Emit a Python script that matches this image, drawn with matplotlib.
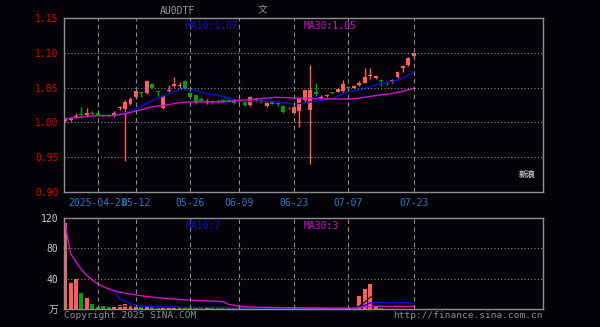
import numpy as np
import pandas as pd
import matplotlib
matplotlib.use('Agg')
import matplotlib.pyplot as plt

# trading days 2025-04-18 .. 2025-07-23 (holidays removed)
holidays = ['2025-05-01', '2025-05-02', '2025-05-05', '2025-06-02']
days = [d for d in pd.bdate_range('2025-04-18', '2025-07-23') if d.strftime('%Y-%m-%d') not in holidays]

opens = [1.002, 1.003, 1.007, 1.012, 1.010, 1.014, 1.013, 1.011, 1.011, 1.009,
         1.020, 1.019, 1.027, 1.036, 1.043, 1.042, 1.055, 1.045, 1.021, 1.045,
         1.052, 1.052, 1.060, 1.042, 1.039, 1.033, 1.030, 1.031, 1.031, 1.032,
         1.032, 1.033, 1.030, 1.030, 1.025, 1.032, 1.032, 1.023, 1.029, 1.028,
         1.024, 1.020, 1.014, 1.017, 1.032, 1.018, 1.043, 1.035, 1.038, 1.043,
         1.044, 1.045, 1.051, 1.050, 1.054, 1.057, 1.066, 1.064, 1.061, 1.058,
         1.058, 1.065, 1.078, 1.082, 1.096]
closes = [1.005, 1.007, 1.009, 1.010, 1.013, 1.012, 1.011, 1.010, 1.009, 1.014,
          1.022, 1.029, 1.034, 1.045, 1.042, 1.060, 1.050, 1.044, 1.038, 1.047,
          1.055, 1.054, 1.048, 1.037, 1.028, 1.031, 1.031, 1.029, 1.030, 1.030,
          1.030, 1.028, 1.032, 1.025, 1.036, 1.034, 1.030, 1.028, 1.027, 1.026,
          1.015, 1.021, 1.022, 1.033, 1.046, 1.046, 1.041, 1.037, 1.040, 1.042,
          1.048, 1.055, 1.049, 1.052, 1.056, 1.065, 1.068, 1.066, 1.060, 1.057,
          1.061, 1.073, 1.081, 1.093, 1.099]
highs = [1.006, 1.008, 1.014, 1.022, 1.020, 1.016, 1.015, 1.012, 1.012, 1.016,
         1.023, 1.032, 1.036, 1.047, 1.044, 1.061, 1.056, 1.045, 1.040, 1.054,
         1.065, 1.058, 1.061, 1.043, 1.040, 1.036, 1.033, 1.032, 1.033, 1.034,
         1.034, 1.034, 1.034, 1.031, 1.038, 1.035, 1.033, 1.029, 1.030, 1.030,
         1.025, 1.022, 1.023, 1.036, 1.047, 1.082, 1.056, 1.039, 1.041, 1.044,
         1.050, 1.061, 1.053, 1.054, 1.060, 1.078, 1.078, 1.067, 1.063, 1.059,
         1.063, 1.074, 1.083, 1.094, 1.100]
lows = [1.001, 1.002, 1.006, 1.006, 1.008, 1.010, 1.010, 1.008, 1.008, 1.008,
        1.018, 0.945, 1.025, 1.034, 1.036, 1.041, 1.049, 1.038, 1.019, 1.043,
        1.051, 1.050, 1.047, 1.035, 1.027, 1.029, 1.027, 1.026, 1.028, 1.029,
        1.029, 1.027, 1.029, 1.024, 1.023, 1.030, 1.028, 1.022, 1.026, 1.023,
        1.014, 1.019, 1.013, 0.993, 1.030, 0.940, 1.038, 1.034, 1.037, 1.041,
        1.043, 1.044, 1.046, 1.049, 1.053, 1.056, 1.062, 1.063, 1.053, 1.054,
        1.057, 1.064, 1.073, 1.081, 1.092]
# volume, 10k units
volumes = [113, 34, 40, 21, 14, 7, 3, 4, 3, 2,
           5, 6, 5, 3, 2, 3, 2, 1.5, 3, 2,
           2.5, 1.5, 2, 2, 2, 1.5, 3, 2, 1.5, 1.5,
           1, 1, 1, 0.8, 1, 0.8, 0.7, 0.8, 0.6, 0.7,
           0.8, 0.7, 1.2, 1.5, 1.5, 2, 1, 0.8, 0.6, 0.6,
           0.7, 0.6, 0.6, 0.6, 17, 27, 33, 4, 0.8, 0.6,
           0.6, 0.5, 0.6, 0.6, 0.5]

tick_dates = ['2025-04-28', '05-12', '05-26', '06-09', '06-23', '07-07', '07-23']

BG = '#050308'
RED = '#ff5c5c'
GREEN = '#00a000'
GRIDC = '#8a8a8a'
MA10C = '#1010d0'
MA30C = '#d010d0'

o = np.array(opens); c = np.array(closes); h = np.array(highs); l = np.array(lows)
v = np.array(volumes)
x = np.arange(len(days))
colors = [RED if cc >= oo else GREEN for oo, cc in zip(o, c)]

ma10 = pd.Series(c).rolling(10).mean()
ma30 = pd.Series(c).rolling(30, min_periods=1).mean()
vma5 = pd.Series(v).rolling(5).mean()
vma10 = pd.Series(v).rolling(10).mean()
vma30 = pd.Series(v).rolling(30, min_periods=1).mean()

day_str = [d.strftime('%m-%d') for d in days]
tick_pos = [day_str.index(t[-5:]) for t in tick_dates]

plt.rcParams['font.family'] = ['DejaVu Sans Mono', 'Noto Sans CJK SC']
fig = plt.figure(figsize=(6, 3.27), dpi=100, facecolor=BG)
ax = fig.add_axes([64/600, 1-192/327, 479/600, 174/327], facecolor=BG)
axv = fig.add_axes([64/600, 1-309/327, 479/600, 91/327], facecolor=BG)

# candles
ax.vlines(x, l, h, colors=colors, lw=1)
body = np.maximum(np.abs(c - o), 0.0009)
ax.bar(x, body, bottom=np.minimum(o, c), width=0.72, color=colors, lw=0)
ax.plot(x, ma10, color=MA10C, lw=1)
ax.plot(x, ma30, color=MA30C, lw=1)

ax.set_ylim(0.90, 1.15)
ax.set_yticks([0.90, 0.95, 1.00, 1.05, 1.10, 1.15])
ax.set_yticklabels(['0.90', '0.95', '1.00', '1.05', '1.10', '1.15'])
ax.tick_params(axis='y', colors='#e00000', length=0, pad=4, labelsize=7)
ax.set_xticks(tick_pos)
ax.set_xticklabels(tick_dates)
ax.tick_params(axis='x', colors='#2b78c8', length=0, pad=4, labelsize=7)
for yv in [0.95, 1.00, 1.05, 1.10]:
    ax.axhline(yv, color=GRIDC, lw=0.8, ls=(0, (1, 2)))
for p in tick_pos:
    ax.axvline(p, color=GRIDC, lw=0.8, ls=(0, (4, 3)))
ax.text((186-64)/479, 0.985, f'MA10:{ma10.iloc[-1]:.2f}', color=MA10C, fontsize=7,
        transform=ax.transAxes, va='top')
ax.text((304-64)/479, 0.985, f'MA30:{ma30.iloc[-1]:.2f}', color=MA30C, fontsize=7,
        transform=ax.transAxes, va='top')
ax.text(0.985, 0.07, '新浪', color='#c8c8c8', fontsize=6, fontweight='bold',
        transform=ax.transAxes, ha='right', va='bottom')

# volume
axv.bar(x, v, width=0.72, color=colors, lw=0)
axv.plot(x, vma5, color='black', lw=0.8)
axv.plot(x, vma10, color=MA10C, lw=1)
axv.plot(x, vma30, color=MA30C, lw=1)
axv.set_ylim(0, 120)
axv.set_yticks([0, 40, 80, 120])
axv.set_yticklabels(['万', '40', '80', '120'])
axv.tick_params(axis='y', colors='#c8c8c8', length=0, pad=4, labelsize=7)
axv.set_xticks([])
for yv in [40, 80]:
    axv.axhline(yv, color=GRIDC, lw=0.8, ls=(0, (1, 2)))
for p in tick_pos:
    axv.axvline(p, color=GRIDC, lw=0.8, ls=(0, (4, 3)))
axv.text((186-64)/479, 0.97, f'MA10:{vma10.iloc[-1]:.0f}', color=MA10C, fontsize=7,
         transform=axv.transAxes, va='top')
axv.text((304-64)/479, 0.97, f'MA30:{vma30.iloc[-1]:.0f}', color=MA30C, fontsize=7,
         transform=axv.transAxes, va='top')

for a in (ax, axv):
    a.set_xlim(-0.2, 87.7)
    for s in a.spines.values():
        s.set_color('#909090')
        s.set_linewidth(1)

fig.text(160/600, 1-11/327, 'AU0DTF', color='#9a9a9a', fontsize=7, va='center')
fig.text(258/600, 1-11/327, '文', color='#9a9a9a', fontsize=7, va='center')
fig.text(64/600, 1-315/327, 'Copyright 2025 SINA.COM', color='#8c8c8c', fontsize=6.8, va='center')
fig.text(543/600, 1-315/327, 'http://finance.sina.com.cn', color='#8c8c8c', fontsize=6.8,
         va='center', ha='right')

fig.savefig('out.png', dpi=100, facecolor=BG)
